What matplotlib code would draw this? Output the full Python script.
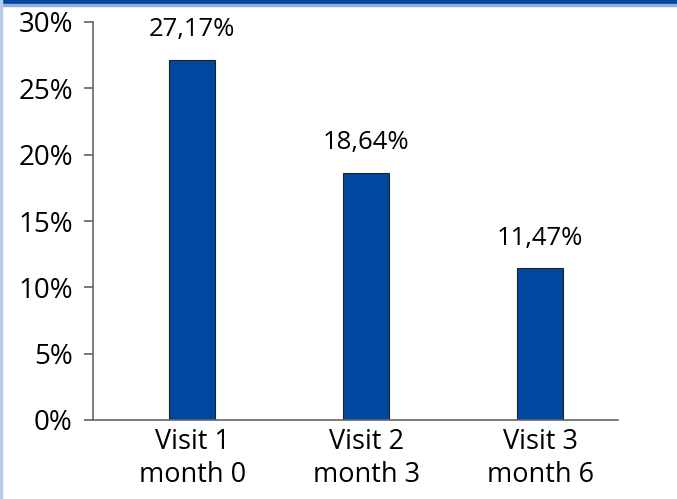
import matplotlib.pyplot as plt
from matplotlib.patches import Rectangle

# data
cats = ['Visit 1\nmonth 0', 'Visit 2\nmonth 3', 'Visit 3\nmonth 6']
vals = [27.17, 18.64, 11.47]
labels = ['27,17%', '18,64%', '11,47%']
yticks = [0, 5, 10, 15, 20, 25, 30]

plt.rcParams['font.family'] = ['Open Sans', 'DejaVu Sans']

fig = plt.figure(figsize=(6.77, 4.99), dpi=100)
ax = fig.add_axes([93/677, 79/499, 525/677, 398/499])

# frame: blue band on top, thin light line left
fig.patches.append(Rectangle((0, 1 - 4/499), 1, 4/499, transform=fig.transFigure,
                             color='#0047a0', zorder=0))
fig.patches.append(Rectangle((0, 1 - 6/499), 1, 2/499, transform=fig.transFigure,
                             color='#8fb0dc', zorder=0))
fig.patches.append(Rectangle((0, 0), 2/677, 1, transform=fig.transFigure,
                             color='#b5cbea', zorder=0))

x = range(len(vals))
ax.bar(x, vals, width=0.265, color='#0047a0', edgecolor='#222222', linewidth=0.8)
for i, v in enumerate(vals):
    ax.text(i, v + 1.3, labels[i], ha='center', va='bottom', fontsize=18.5)

ax.set_xlim(-0.571, 2.448)
ax.set_ylim(0, 30)
ax.set_yticks(yticks)
ax.set_yticklabels([f'{t}%' for t in yticks], fontsize=20)
ax.set_xticks(list(x))
ax.set_xticklabels(cats, fontsize=19.5, linespacing=1.2)
ax.tick_params(axis='x', length=0, pad=6)
ax.tick_params(axis='y', length=6.5, width=1.1, color='#555555', pad=8)
for s in ['top', 'right']:
    ax.spines[s].set_visible(False)
for s in ['left', 'bottom']:
    ax.spines[s].set_color('#666666')
    ax.spines[s].set_linewidth(1.2)

fig.savefig('out.png', dpi=100)
